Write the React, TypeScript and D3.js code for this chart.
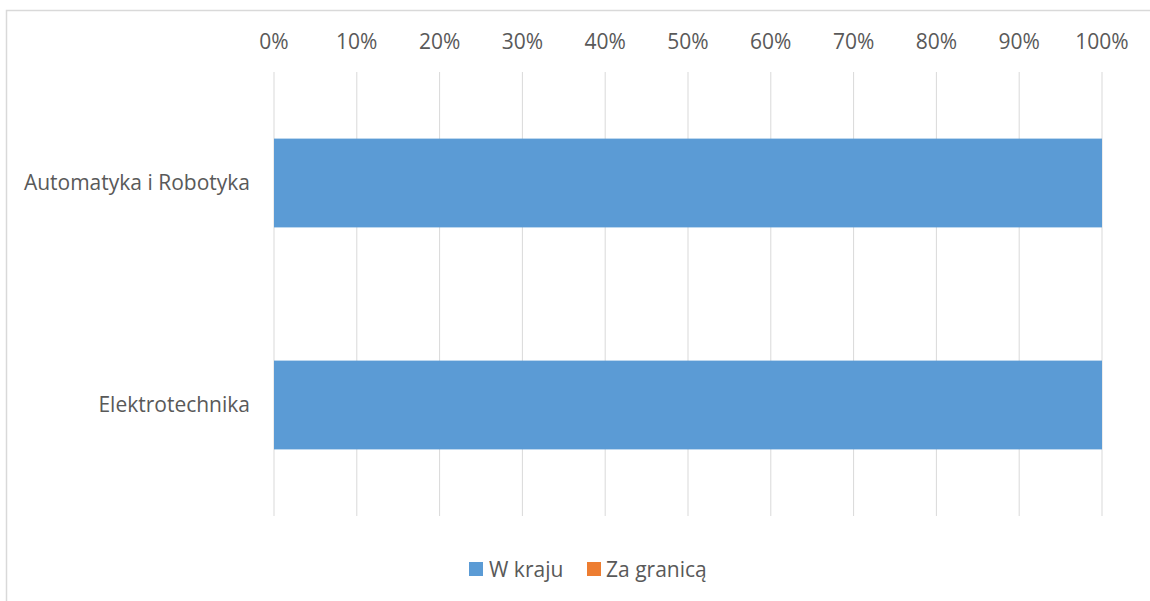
import React from "react";
import * as d3 from "d3";

const categories = ["Automatyka i Robotyka", "Elektrotechnika"];
const seriesNames = ["W kraju", "Za granicą"];
const wKraju = [100, 100];
const zaGranica = [0, 0];
const xTicks = [0, 10, 20, 30, 40, 50, 60, 70, 80, 90, 100];
const colors = ["#5b9bd5", "#ed7d31"];

const W = 1150;
const H = 601;
const FONT = "'Open Sans', 'Liberation Sans', sans-serif";
const TEXT = "#595959";
const FS = 21;

export default function App() {
  const left = 274, right = 1102, top = 72, bottom = 516;
  const x = d3.scaleLinear().domain([0, 100]).range([left, right]);
  const y = d3.scaleBand<string>().domain(categories).range([top, bottom]).paddingInner(0.6).paddingOuter(0.3);

  const rows = categories.map((c, i) => ({ cat: c, "W kraju": wKraju[i], "Za granicą": zaGranica[i] }));
  const stacked = d3.stack<any>().keys(seriesNames)(rows);

  return (
    <div style={{ position: "absolute", left: 0, top: 0 }}>
      <svg width={W} height={H} style={{ display: "block" }}>
        <rect x={0} y={0} width={W} height={H} fill="#fff" />
        <rect x={6.5} y={10.5} width={W + 10} height={H + 10} fill="none" stroke="#d9d9d9" strokeWidth={1.5} />
        {xTicks.map((t) => (
          <g key={t}>
            <line x1={x(t)} x2={x(t)} y1={top} y2={bottom} stroke="#d9d9d9" strokeWidth={1} />
            <text x={x(t)} y={49} textAnchor="middle" fontFamily={FONT} fontSize={FS} fill={TEXT}>
              {t}%
            </text>
          </g>
        ))}
        {stacked.map((s, si) =>
          s.map((d, i) => {
            const w = x(d[1]) - x(d[0]);
            if (w <= 0) return null;
            return (
              <rect key={si + "-" + i} x={x(d[0])} y={y(categories[i])!} width={w} height={y.bandwidth()} fill={colors[si]} />
            );
          })
        )}
        {categories.map((c) => (
          <text key={c} x={250} y={y(c)! + y.bandwidth() / 2} dy="0.35em" textAnchor="end" fontFamily={FONT} fontSize={FS} fill={TEXT}>
            {c}
          </text>
        ))}
        <g>
          <rect x={469} y={562} width={14} height={14} fill={colors[0]} />
          <text x={489} y={577} fontFamily={FONT} fontSize={FS} fill={TEXT}>{seriesNames[0]}</text>
          <rect x={587} y={562} width={14} height={14} fill={colors[1]} />
          <text x={606} y={577} fontFamily={FONT} fontSize={FS} fill={TEXT}>{seriesNames[1]}</text>
        </g>
      </svg>
    </div>
  );
}
